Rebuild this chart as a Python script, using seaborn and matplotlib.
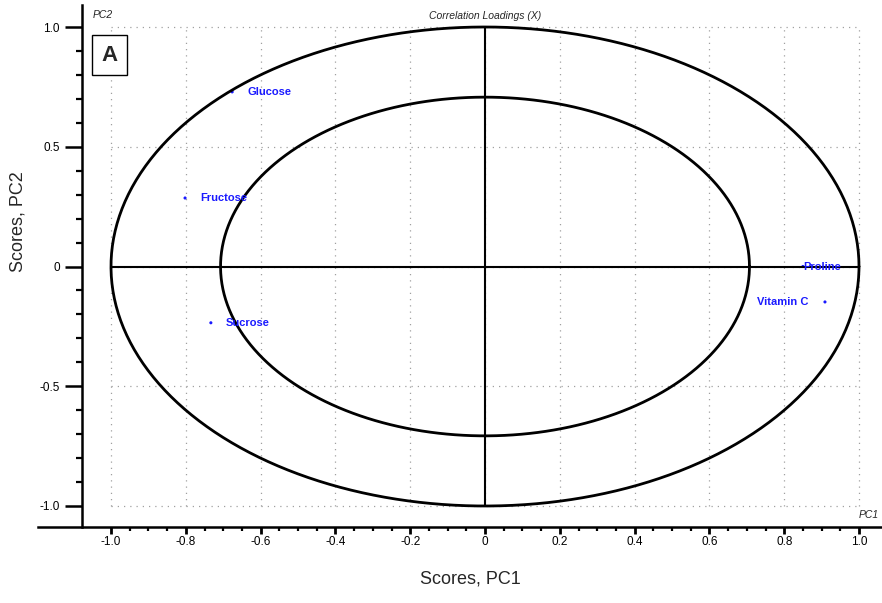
import numpy as np
import pandas as pd
import matplotlib
matplotlib.use("Agg")
import matplotlib.pyplot as plt
import seaborn as sns
from matplotlib.ticker import FixedLocator

# ---- data ----
variables = ["Glucose", "Fructose", "Sucrose", "Proline", "Vitamin C"]
pc1 = [-0.676, -0.802, -0.733, 0.85, 0.909]
pc2 = [0.729, 0.286, -0.235, 0.0, -0.148]
x_ticks = [-1.0, -0.8, -0.6, -0.4, -0.2, 0, 0.2, 0.4, 0.6, 0.8, 1.0]
x_tick_labels = ["-1.0", "-0.8", "-0.6", "-0.4", "-0.2", "0", "0.2", "0.4", "0.6", "0.8", "1.0"]
y_ticks = [-1.0, -0.5, 0, 0.5, 1.0]
y_tick_labels = ["-1.0", "-0.5", "0", "0.5", "1.0"]
circle_radii = [1.0, np.sqrt(0.5)]

df = pd.DataFrame({"variable": variables, "PC1": pc1, "PC2": pc2})

sns.set_style("white")
plt.rcParams["font.family"] = ["Liberation Sans", "DejaVu Sans"]

fig = plt.figure(figsize=(8.82, 6.03), dpi=100)
ax = fig.add_axes([38 / 882, 76 / 603, 844 / 882, 522 / 603])

# grid box (dotted)
for xv in x_ticks:
    ax.plot([xv, xv], [-1, 1], color="#a0a0a0", lw=0.9, ls=(0, (1, 4)), zorder=1)
for yv in y_ticks:
    ax.plot([-1, 1], [yv, yv], color="#a0a0a0", lw=0.9, ls=(0, (1, 4)), zorder=1)

# circles
t = np.linspace(0, 2 * np.pi, 400)
for r in circle_radii:
    ax.plot(r * np.cos(t), r * np.sin(t), color="black", lw=2.0, zorder=3)

# zero axes
ax.plot([-1, 1], [0, 0], color="black", lw=1.5, zorder=3)
ax.plot([0, 0], [-1, 1], color="black", lw=1.5, zorder=3)

# points
sns.scatterplot(data=df, x="PC1", y="PC2", color="#1a1aff", s=5, marker="o",
                edgecolor="none", ax=ax, zorder=2, legend=False)

label_ha = {"Glucose": "left", "Fructose": "left", "Sucrose": "left",
            "Proline": "left", "Vitamin C": "right"}
label_dx = {"Glucose": 0.04, "Fructose": 0.04, "Sucrose": 0.04,
            "Proline": 0.0, "Vitamin C": -0.045}
for name, xv, yv in zip(variables, pc1, pc2):
    ax.text(xv + label_dx[name], yv, name, color="#1a1aff", fontsize=8,
            fontweight="bold", ha=label_ha[name], va="center", zorder=4)

ax.set_xlim(-1 - 73 / 374, 1 + 23 / 374)
ax.set_ylim(-1 - 21 / 239.5, 1 + 22 / 239.5)

for s in ["top", "right"]:
    ax.spines[s].set_visible(False)
ax.spines["left"].set_position(("data", -1 - 29 / 374))
ax.spines["left"].set_linewidth(1.8)
ax.spines["bottom"].set_linewidth(1.8)
ax.spines["left"].set_color("black")
ax.spines["bottom"].set_color("black")

ax.xaxis.set_major_locator(FixedLocator(x_ticks))
ax.set_xticklabels(x_tick_labels)
ax.yaxis.set_major_locator(FixedLocator(y_ticks))
ax.set_yticklabels(y_tick_labels)
ax.xaxis.set_minor_locator(FixedLocator(np.round(np.arange(-1.0, 1.001, 0.05), 3)))
ax.yaxis.set_minor_locator(FixedLocator(np.round(np.arange(-1.0, 1.001, 0.1), 3)))
ax.tick_params(axis="x", which="major", direction="out", length=5, width=2.0,
               labelsize=8.5, colors="black", pad=1.5, bottom=True)
ax.tick_params(axis="x", which="minor", direction="out", length=3, width=1.6,
               colors="black", bottom=True)
ax.tick_params(axis="y", which="major", direction="out", length=12, width=1.8,
               labelsize=8.5, colors="black", pad=4, left=True)
ax.tick_params(axis="y", which="minor", direction="out", length=4, width=1.6,
               colors="black", left=True)

ax.set_xlabel("Scores, PC1", fontsize=13)
ax.set_ylabel("Scores, PC2", fontsize=13)
ax.xaxis.set_label_coords((470 - 38) / 844, (527 - 570) / 522)
ax.yaxis.set_label_coords((27 - 38) / 844, (527 - 222) / 522)

ax.text(-1.048, 1.05, "PC2", fontsize=7.5, style="italic", ha="left", va="center")
ax.text(1.0, -1.037, "PC1", fontsize=7.5, style="italic", ha="left", va="center")
ax.text(0.0, 1.046, "Correlation Loadings (X)", fontsize=7.5, style="italic",
        ha="center", va="center")

ax.text(-1.003, 0.883, "A", fontsize=16, fontweight="bold", ha="center", va="center",
        bbox=dict(boxstyle="square,pad=0.42", facecolor="white", edgecolor="black", lw=1))

fig.savefig("out.png", dpi=100)
